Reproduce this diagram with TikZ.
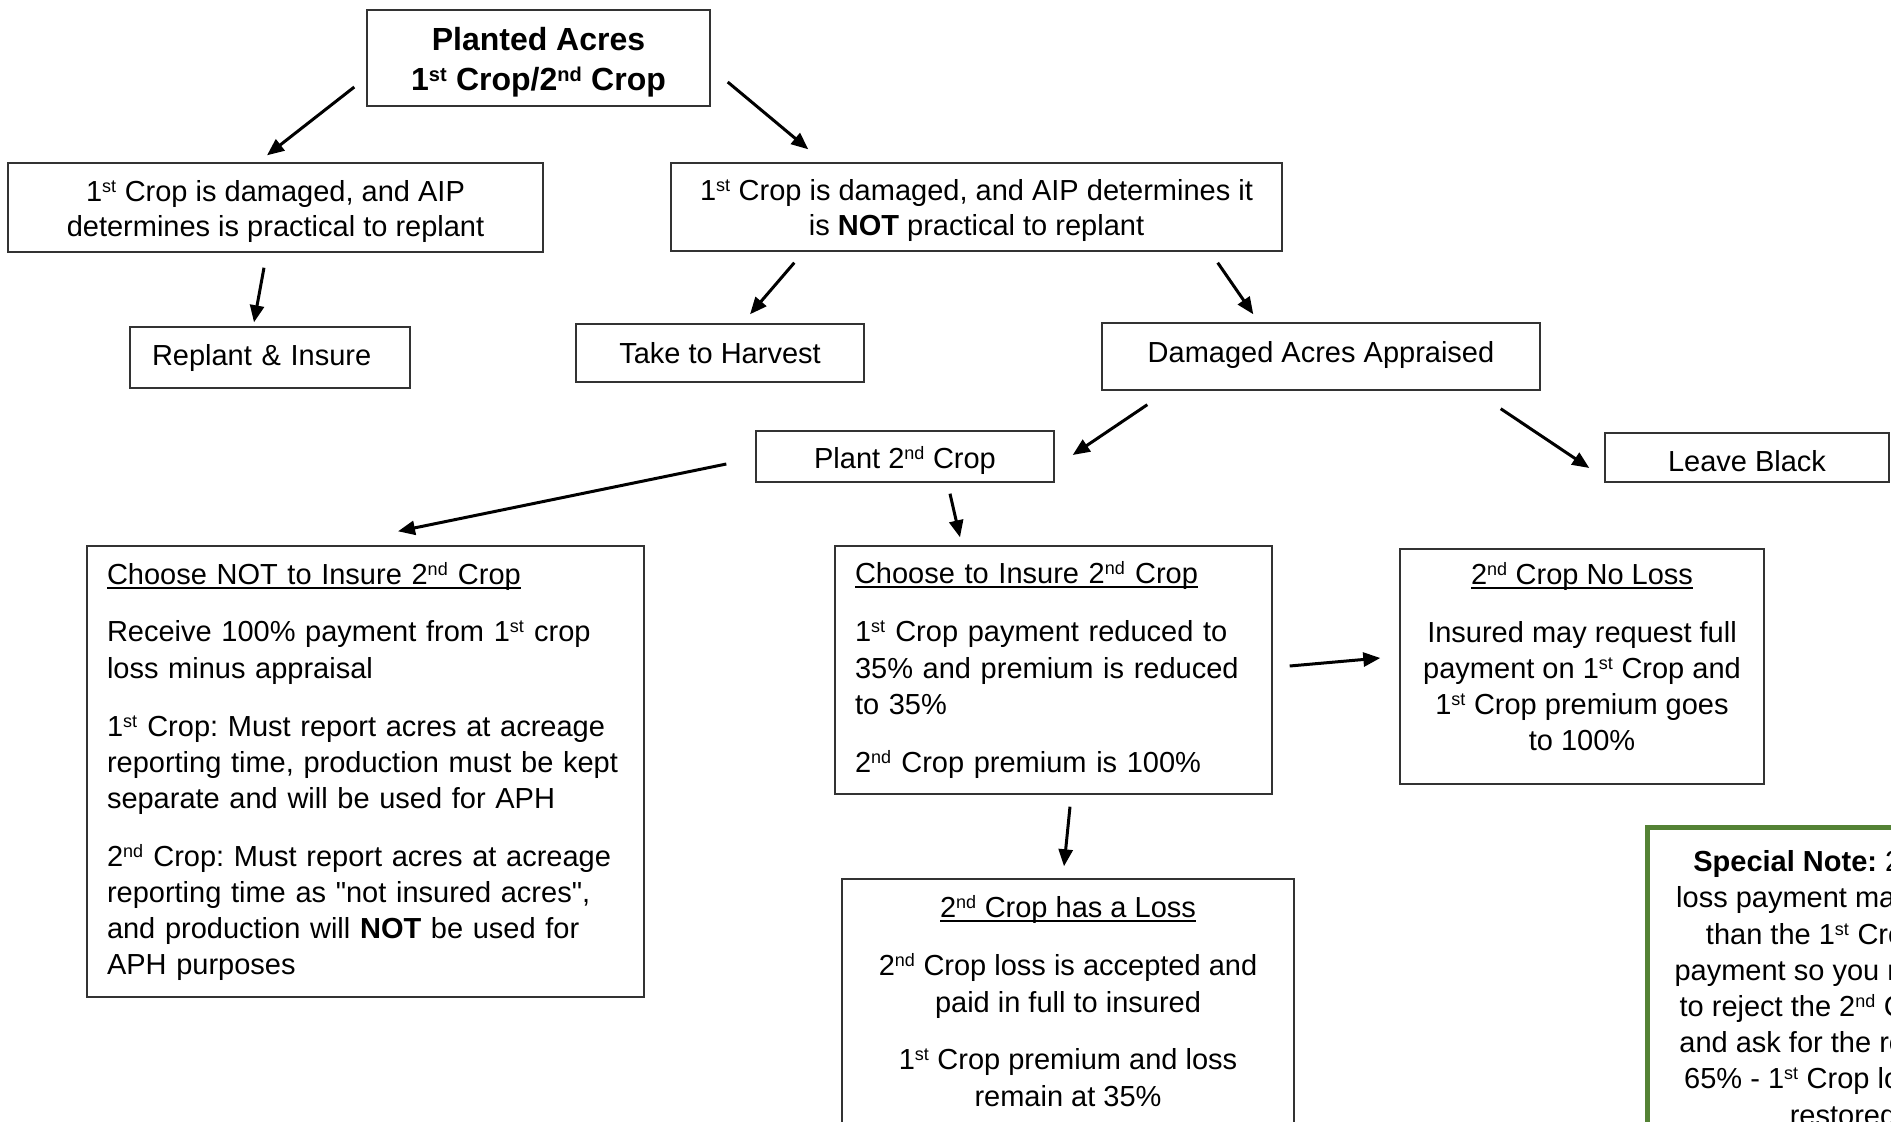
\documentclass[tikz,border=0pt]{standalone}
\usepackage{fontspec}
\setmainfont{Liberation Sans}
\newfontfamily\qf{Liberation Sans}[Ligatures=TeXOff]
\usetikzlibrary{calc,arrows.meta}
\definecolor{notegreen}{HTML}{548235}
\frenchspacing
\newcommand\fsz{\fontsize{29}{36.2}\selectfont}
\newcommand\ulx[1]{\setbox0\hbox{#1}\rlap{\rule[-4.5pt]{\wd0}{2pt}}\box0}
\newcommand\gap{\\[21.7pt]}
\newcommand\sups[1]{\textsuperscript{\fontsize{18}{18}\selectfont #1}}
\newcommand\tsups[1]{\textsuperscript{\fontsize{20}{20}\selectfont\bfseries #1}}
\begin{document}
\begin{tikzpicture}[x=1pt,y=-1pt,
  box/.style={draw=black!80, line width=1.4pt, inner sep=0pt, font=\fsz, align=center},
  lbox/.style={draw=black!80, line width=1.4pt, inner ysep=0pt, inner xsep=20pt, font=\fsz, align=left},
  arr/.style={line width=3pt, -{Triangle[length=17pt,width=14pt]}}]
\fill[white] (0,0) rectangle (1891,1122);
\useasboundingbox (0,0) rectangle (1891,1122);
\clip (0,0) rectangle (1891,1122);

\node[box, minimum width=343, minimum height=96, font=\fontsize{32}{40}\selectfont\bfseries] (top) at (538.5,58)
  {Planted Acres\rule{0pt}{31pt}\\1\tsups{st} Crop/2\tsups{nd} Crop};
\node[box, minimum width=535, minimum height=89, font=\fontsize{29}{35}\selectfont] (rep) at (275.5,207.5)
  {1\sups{st} Crop is damaged, and AIP\rule{0pt}{29pt}\\determines is practical to replant};
\node[box, minimum width=611, minimum height=88, font=\fontsize{29}{35}\selectfont] (notrep) at (976.5,207)
  {1\sups{st} Crop is damaged, and AIP determines it\rule{0pt}{29pt}\\is \textbf{NOT} practical to replant};
\node[lbox, inner xsep=22pt, text width=236, minimum height=61] (replant) at (270,357.5) {Replant \& Insure};
\node[box, minimum width=288, minimum height=58] (harvest) at (720,353) {Take to Harvest};
\node[box, minimum width=438, minimum height=67] (damaged) at (1321,356.5) {Damaged Acres Appraised\rule[-10pt]{0pt}{1pt}};
\node[box, minimum width=298, minimum height=51] (plant) at (905,456.5) {Plant 2\sups{nd} Crop\rule{0pt}{30pt}};
\node[box, minimum width=284, minimum height=49] (leave) at (1747,457.5) {Leave Black\rule{0pt}{28pt}};

\node[lbox, text width=517, minimum height=451] (notins) at (365.5,771.5)
  {\ulx{Choose NOT to Insure 2\sups{nd} Crop}\gap
   Receive 100\% payment from 1\sups{st} crop\\loss minus appraisal\gap
   1\sups{st} Crop: Must report acres at acreage\\reporting time, production must be kept\\separate and will be used for APH\gap
   2\sups{nd} Crop: Must report acres at acreage\\reporting time as {\qf"}not insured acres{\qf"},\\and production will \textbf{NOT} be used for\\APH purposes};
\node[lbox, text width=397, minimum height=248] (ins) at (1053.5,670)
  {\ulx{Choose to Insure 2\sups{nd} Crop}\gap
   1\sups{st} Crop payment reduced to\\35\% and premium is reduced\\to 35\%\gap
   2\sups{nd} Crop premium is 100\%};
\node[box, minimum width=364, minimum height=235] (noloss) at (1582,666.5)
  {\ulx{2\sups{nd} Crop No Loss}\gap
   Insured may request full\\payment on 1\sups{st} Crop and\\1\sups{st} Crop premium goes\\to 100\%\rule[-20pt]{0pt}{1pt}};
\node[box, minimum width=452, minimum height=250] (loss) at (1068,1004)
  {\ulx{2\sups{nd} Crop has a Loss}\gap
   2\sups{nd} Crop loss is accepted and\\paid in full to insured\gap
   1\sups{st} Crop premium and loss\\remain at 35\%\rule[-6pt]{0pt}{1pt}};
\node[box, draw=notegreen, line width=5pt, minimum width=392, minimum height=321] (note) at (1843,987.5)
  {\textbf{Special Note:} 2\sups{nd} Crop\\loss payment may be less\\than the 1\sups{st} Crop loss\\payment so you may want\\to reject the 2\sups{nd} Crop loss\\and ask for the remaining\\65\% - 1\sups{st} Crop loss to be\\restored};

\draw[arr] ($(top.west)+(-12,29)$) -- ($(rep.north)+(-8.5,-7)$);
\draw[arr] ($(top.east)+(17,24)$) -- ($(notrep.north west)+(138,-13)$);
\draw[arr] ($(rep.south)+(-11.5,15)$) -- ($(replant.north)+(-16,-4)$);
\draw[arr] ($(notrep.south west)+(124,11)$) -- ($(harvest.north)+(30,-9)$);
\draw[arr] ($(notrep.south east)+(-65,11)$) -- ($(damaged.north west)+(152,-8)$);
\draw[arr] ($(damaged.south west)+(46,14)$) -- ($(plant.east)+(18,-1.5)$);
\draw[arr] ($(damaged.south east)+(-40,18)$) -- ($(leave.west)+(-15,10.5)$);
\draw[arr] ($(plant.west)+(-29,7.5)$) -- ($(notins.north)+(32.5,-14)$);
\draw[arr] ($(plant.south)+(45,11)$) -- ($(ins.north)+(-93.5,-8)$);
\draw[arr] ($(ins.east)+(17,-4)$) -- ($(noloss.west)+(-19,-8.5)$);
\draw[arr] ($(ins.south)+(16.5,12)$) -- ($(loss.north)+(-4,-12)$);
\end{tikzpicture}
\end{document}
